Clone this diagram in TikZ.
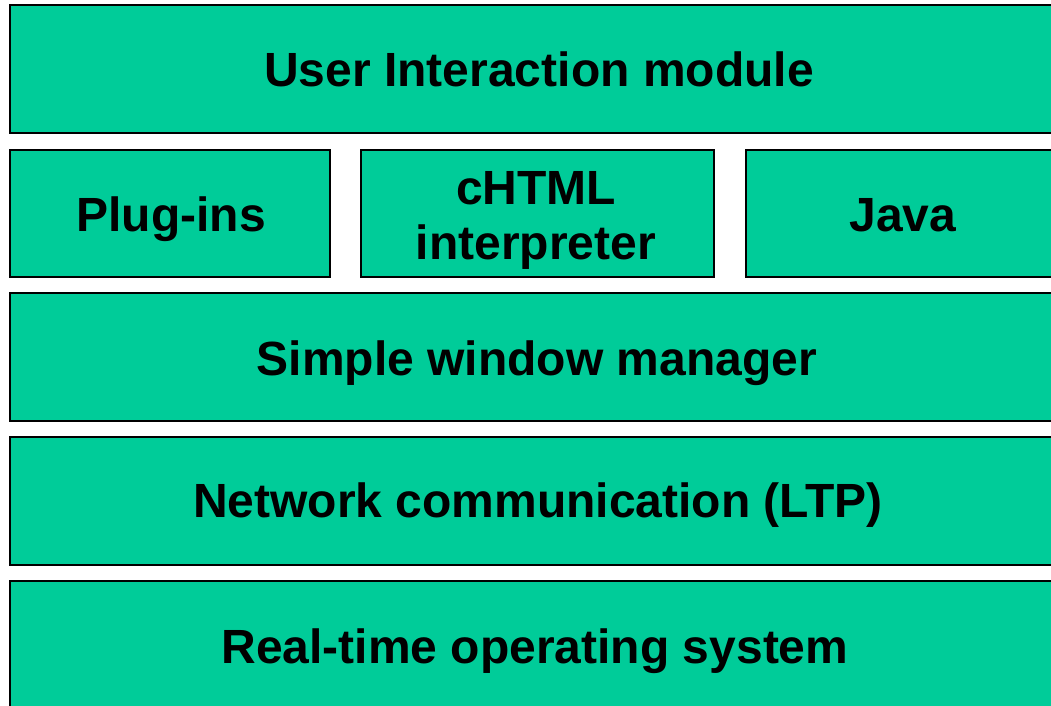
\documentclass[tikz,border=0pt]{standalone}
\usepackage{fontspec}
\setmainfont{Liberation Sans}
\definecolor{layer}{HTML}{00CC99}
\begin{document}
\begin{tikzpicture}[x=1pt,y=-1pt,
  layerbox/.style={draw=black,line width=2pt,fill=layer,inner sep=0pt},
  lbl/.style={font=\fontsize{48}{55}\selectfont\bfseries,align=center,inner sep=0pt,anchor=base}]
\useasboundingbox (0,0) rectangle (1051,706);
\clip (0,0) rectangle (1051,706);
\draw[layerbox] (10,5) rectangle (1066,133);
\node[lbl] (ui) at (539,87) {User Interaction module};
\draw[layerbox] (10,150) rectangle (330,277);
\node[lbl] (pl) at (171,231) {Plug-ins};
\draw[layerbox] (361,150) rectangle (714,277);
\node[lbl] (ch) at (536,259) {cHTML\\interpreter};
\draw[layerbox] (746,150) rectangle (1062,277);
\node[lbl] (ja) at (903,231) {Java};
\draw[layerbox] (10,293) rectangle (1066,421);
\node[lbl] (sw) at (537,375) {Simple window manager};
\draw[layerbox] (10,437) rectangle (1066,565);
\node[lbl] (nc) at (538,517) {Network communication (LTP)};
\draw[layerbox] (10,581) rectangle (1066,712);
\node[lbl] (rt) at (535,663) {Real-time operating system};
\end{tikzpicture}
\end{document}
